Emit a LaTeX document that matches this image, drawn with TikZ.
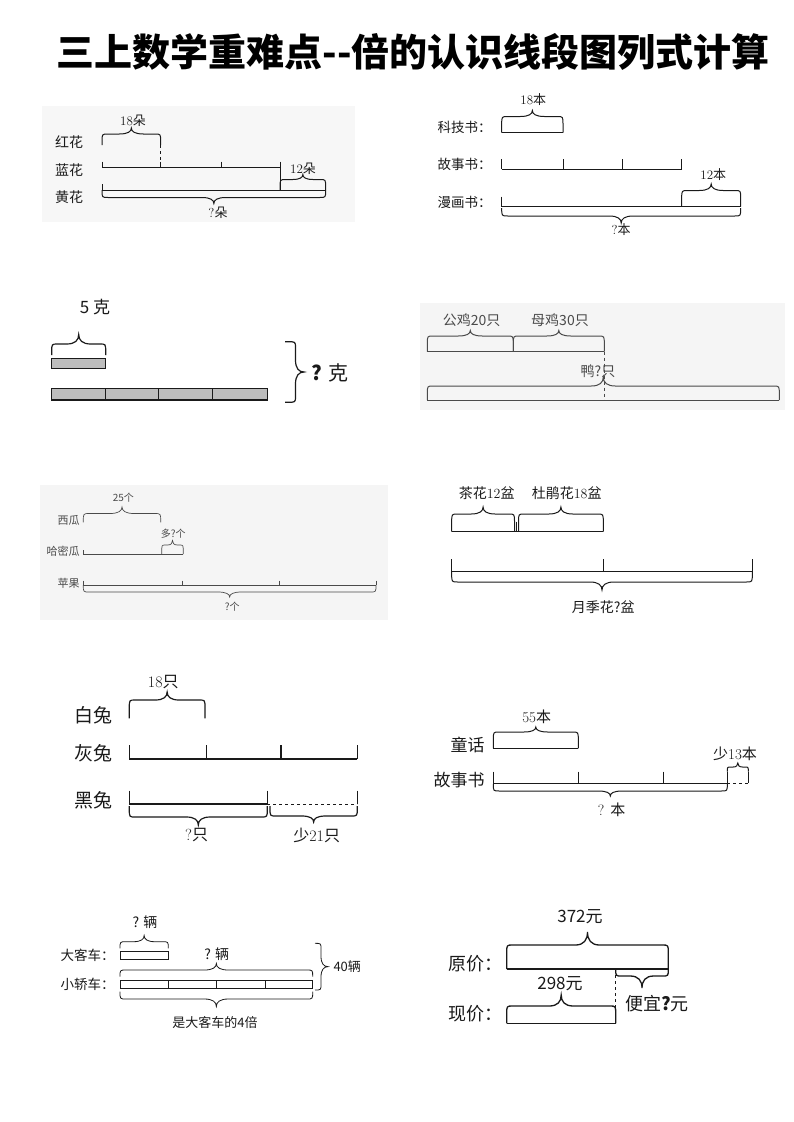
\documentclass[tikz,border=0pt]{standalone}
\usepackage{fontspec}
\newfontfamily\cjk{Noto Sans CJK SC}
\definecolor{barg}{HTML}{BDBDBD}
\definecolor{ink}{HTML}{1A1A1A}
\definecolor{inkb}{HTML}{4A4A4A}
\newcommand\hbr[6][]{%
  \pgfmathsetmacro\brxm{(#2+#3)/2}%
  \pgfmathsetmacro\brrx{min(6,(#3-#2)/6)}%
  \pgfmathsetmacro\brtw{min(12,(#3-#2)/4.5)}%
  \pgfmathsetmacro\bryc{#5+(#4-#5)*min(1,8/max(abs(#4-#5),0.01))}%
  \draw[brc,#1] (#2,#4) -- (#2,\bryc) .. controls (#2,#5) .. ({#2+\brrx},#5) -- ({\brxm-\brtw},#5) .. controls ({\brxm-0.3*\brtw},#5) and (\brxm,{#5+0.4*(#6-#5)}) .. (\brxm,#6) .. controls (\brxm,{#5+0.4*(#6-#5)}) and ({\brxm+0.3*\brtw},#5) .. ({\brxm+\brtw},#5) -- ({#3-\brrx},#5) .. controls (#3,#5) .. (#3,\bryc) -- (#3,#4);}
\newcommand\vbr[6][]{%
  \pgfmathsetmacro\brym{(#2+#3)/2}%
  \pgfmathsetmacro\brry{min(6,(#3-#2)/6)}%
  \pgfmathsetmacro\brtw{min(12,(#3-#2)/4.5)}%
  \pgfmathsetmacro\brxc{#5+(#4-#5)*min(1,8/max(abs(#4-#5),0.01))}%
  \draw[brc,#1] (#4,#2) -- (\brxc,#2) .. controls (#5,#2) .. (#5,{#2+\brry}) -- (#5,{\brym-\brtw}) .. controls (#5,{\brym-0.3*\brtw}) and ({#5+0.4*(#6-#5)},\brym) .. (#6,\brym) .. controls ({#5+0.4*(#6-#5)},\brym) and (#5,{\brym+0.3*\brtw}) .. (#5,{\brym+\brtw}) -- (#5,{#3-\brry}) .. controls (#5,#3) .. (\brxc,#3) -- (#4,#3);}
\begin{document}
\begin{tikzpicture}[x=1pt,y=-1pt,line width=1pt,draw=ink,
  brc/.style={line width=1pt},
  fs/.style={font=\fontsize{#1}{#1}\selectfont},
  lab/.style={inner sep=0pt,text=ink},
  tick/.style={line width=1pt}]
\useasboundingbox (0,0) rectangle (793,1122);
\fill[white] (0,0) rectangle (793,1122);
% title
\node[lab,fs=38,text=black] (title) at (413,52) {\cjk\bfseries 三上数学重难点--倍的认识线段图列式计算};

% ---------- panel 1 ----------
\fill[black!3] (42,106) rectangle (355,222);
\node[lab,fs=14] (p1a) at (69,142) {\cjk 红花};
\node[lab,fs=14] (p1b) at (69,170) {\cjk 蓝花};
\node[lab,fs=14] (p1c) at (69,197) {\cjk 黄花};
\node[lab,fs=13] (p1n1) at (133,121) {18\cjk 朵};
\node[lab,fs=13] (p1n2) at (303,168.5) {12\cjk 朵};
\node[lab,fs=13] (p1n3) at (218,212.5) {?\cjk 朵};
\hbr{102}{160.7}{145}{134}{128}
\draw[dashed,line width=0.8pt] (160.7,145) -- (160.7,167.7);
\draw (102,167.7) -- (280,167.7);
\foreach \x in {102,160.7,221,280} \draw[tick] (\x,161.7) -- (\x,167.7);
\draw (102,190) -- (325.7,190);
\draw[tick] (102,184) -- (102,190);
\draw[tick] (280,167.7) -- (280,190);
\hbr{280}{325.7}{190}{179.5}{174.5}
\hbr{102}{325.7}{190}{197.5}{203.5}

% ---------- panel 2 ----------
\node[lab,fs=13.5,anchor=east] (p2a) at (492,127.7) {\cjk 科技书：};
\node[lab,fs=13.5,anchor=east] (p2b) at (492,164.3) {\cjk 故事书：};
\node[lab,fs=13.5,anchor=east] (p2c) at (492,202.3) {\cjk 漫画书：};
\node[lab,fs=13] (p2n1) at (533.3,100) {18\cjk 本};
\node[lab,fs=13] (p2n2) at (713.3,175) {12\cjk 本};
\node[lab,fs=13] (p2n3) at (621,230) {?\cjk 本};
\hbr{501.7}{563}{132.7}{116.5}{110.5}
\draw (501.7,132.7) -- (563,132.7);
\draw (501.7,169.3) -- (681.7,169.3);
\foreach \x in {501.7,563,622.7,681.7} \draw[tick] (\x,159.3) -- (\x,169.3);
\draw (501.7,206.7) -- (740.7,206.7);
\draw[tick] (501.7,196.7) -- (501.7,206.7);
\draw[tick] (681.7,195) -- (681.7,206.7);
\hbr{681.7}{740.7}{206.7}{190.5}{184}
\hbr{501.7}{740.7}{208}{216}{223}

% ---------- panel 3 ----------
\node[lab,fs=17] (p3n1) at (95,306.7) {\cjk 5 克};
\hbr[line width=1.2pt]{51.7}{105.7}{355}{344}{334.5}
\draw[fill=barg,line width=1.2pt] (51.7,358.3) rectangle (105.7,368.3);
\draw[fill=barg,line width=1.2pt] (51.7,388.3) rectangle (267.7,400);
\foreach \x in {105,158.3,212.7} \draw[line width=1pt] (\x,388.3) -- (\x,400);
\vbr[line width=1.2pt]{341.7}{402.3}{285}{295.5}{304}
\node[lab,fs=20] (p3n2) at (330,373.3) {\cjk{\bfseries ?} 克};

% ---------- panel 4 ----------
\fill[black!4] (420,303) rectangle (785,410);
\begin{scope}[draw=inkb]
\node[lab,fs=14,text=inkb] (p4n1) at (471.7,320) {\cjk 公鸡20只};
\node[lab,fs=14,text=inkb] (p4n2) at (560,320) {\cjk 母鸡30只};
\node[lab,fs=14,text=inkb] (p4n3) at (598,371.7) {\cjk 鸭?只};
\draw (427.3,351.7) -- (604.3,351.7);
\draw[tick] (513.3,343) -- (513.3,351.7);
\hbr{427.3}{513.3}{351.7}{336}{330.5}
\hbr{513.3}{604.3}{351.7}{336}{330.5}
\draw[dashed,line width=0.8pt] (604.3,351.7) -- (604.3,400);
\hbr{427.3}{779.3}{400}{386}{377}
\draw (427.3,400) -- (779.3,400);
\end{scope}

% ---------- panel 5 ----------
\fill[black!4] (40,485) rectangle (388,620);
\begin{scope}[draw=inkb,line width=0.7pt,brc/.style={line width=0.7pt},tick/.style={line width=0.7pt}]
\node[lab,fs=11,text=inkb,anchor=east] (p5a) at (80,520) {\cjk 西瓜};
\node[lab,fs=11,text=inkb,anchor=east] (p5b) at (80,551.7) {\cjk 哈密瓜};
\node[lab,fs=11,text=inkb,anchor=east] (p5c) at (80,583.3) {\cjk 苹果};
\node[lab,fs=10,text=inkb] (p5n1) at (123.3,497.7) {\cjk 25个};
\node[lab,fs=10,text=inkb] (p5n2) at (173.3,533.5) {\cjk 多?个};
\node[lab,fs=10,text=inkb] (p5n3) at (232.3,606.5) {\cjk ?个};
\hbr{83.3}{160.7}{522.3}{513.5}{507}
\draw (83.3,554) -- (183.3,554);
\draw[tick] (83.3,550) -- (83.3,554);
\hbr{161.7}{183.3}{554}{545}{540.5}
\draw (83.3,585) -- (376,585);
\foreach \x in {83.3,182.7,279.3,376} \draw[tick] (\x,580.5) -- (\x,585);
\hbr{83.3}{376}{585}{592}{597}
\end{scope}

% ---------- panel 6 ----------
\node[lab,fs=14] (p6n1) at (486.7,493.3) {\cjk 茶花\rmfamily 12\cjk 盆};
\node[lab,fs=14] (p6n2) at (566.7,493.3) {\cjk 杜鹃花\rmfamily 18\cjk 盆};
\node[lab,fs=14] (p6n3) at (603.3,606.7) {\cjk 月季花?盆};
\hbr{451.7}{514.5}{531.7}{514}{507}
\hbr{518.5}{603.3}{531.7}{514}{507}
\draw (451.7,531.7) -- (603.3,531.7);
\draw[tick] (516.7,521.7) -- (516.7,531.7);
\draw (451.7,571.7) -- (752.3,571.7);
\foreach \x in {451.7,603.3,752.3} \draw[tick] (\x,559) -- (\x,571.7);
\hbr{451.7}{752.3}{571.7}{582}{590}

% ---------- panel 7 ----------
\node[lab,fs=16] (p7n1) at (163.3,681.7) {18\cjk 只};
\node[lab,fs=19,anchor=east] (p7a) at (113,715) {\cjk 白兔};
\node[lab,fs=19,anchor=east] (p7b) at (113,753.3) {\cjk 灰兔};
\node[lab,fs=19,anchor=east] (p7c) at (113,800) {\cjk 黑兔};
\node[lab,fs=16] (p7n2) at (196.7,835) {?\cjk 只};
\node[lab,fs=16] (p7n3) at (316.7,835) {\cjk 少\rmfamily 21\cjk 只};
\hbr[line width=1.2pt]{129.3}{205}{718.3}{700}{692}
\draw[line width=1.1pt] (129.3,759) -- (357.3,759);
\foreach \x in {129.3,206.7,281,357.3} \draw[line width=1.1pt] (\x,745) -- (\x,759);
\draw[line width=1.1pt] (129.3,804) -- (267.3,804);
\draw[dashed,line width=1pt] (267.3,804) -- (357.3,804);
\foreach \x in {129.3,267.3,357.3} \draw[line width=1.1pt] (\x,790.5) -- (\x,804);
\hbr[line width=1.2pt]{129.3}{267.3}{806}{817}{825}
\hbr[line width=1.2pt]{270}{357.3}{806}{816}{822}

% ---------- panel 8 ----------
\node[lab,fs=15] (p8n1) at (536.7,716.7) {55\cjk 本};
\node[lab,fs=17,anchor=east] (p8a) at (485,745) {\cjk 童话};
\node[lab,fs=17,anchor=east] (p8b) at (485,780) {\cjk 故事书};
\node[lab,fs=15] (p8n2) at (735,753.3) {\cjk 少\rmfamily 13\cjk 本};
\node[lab,fs=15] (p8n3) at (611.7,810) {? \cjk 本};
\hbr{493.3}{578.3}{748.3}{732}{727}
\draw (493.3,748.3) -- (578.3,748.3);
\draw (493.3,783.3) -- (727.3,783.3);
\foreach \x in {493.3,578.3,663.3,727.3} \draw[tick] (\x,771.7) -- (\x,783.3);
\draw[dashed,line width=0.8pt] (727.3,783.3) -- (748.3,783.3);
\draw[tick] (748.3,771.7) -- (748.3,783.3);
\hbr{727.3}{748.3}{771.7}{767}{763}
\hbr{493.3}{727.3}{784}{791}{796}

% ---------- panel 9 ----------
\begin{scope}[draw=ink]
\node[lab,fs=14] (p9n1) at (145,921.7) {\cjk ? 辆};
\node[lab,fs=13.5,anchor=east] (p9a) at (115,955) {\cjk 大客车：};
\node[lab,fs=13.5,anchor=east] (p9b) at (115,984.3) {\cjk 小轿车：};
\node[lab,fs=14] (p9n2) at (216.7,954.3) {\cjk ? 辆};
\node[lab,fs=13] (p9n3) at (215,1022.3) {\cjk 是大客车的4倍};
\node[lab,fs=13,anchor=west] (p9n4) at (333,966.7) {\cjk 40辆};
\hbr[line width=0.8pt]{120}{168.3}{948.3}{941.7}{935.5}
\draw[line width=0.9pt] (120,951.7) rectangle (168.3,959);
\hbr[line width=0.8pt]{120}{312.7}{976.7}{970}{963.5}
\draw[line width=0.9pt] (120,980) rectangle (312.7,988.3);
\foreach \x in {168.3,216,265} \draw[line width=0.9pt] (\x,980) -- (\x,988.3);
\hbr[line width=0.8pt]{120}{312.7}{991.7}{999}{1006.5}
\vbr[line width=0.8pt]{943.3}{990}{315}{321}{328}
\end{scope}

% ---------- panel 10 ----------
\begin{scope}[line width=1.3pt,brc/.style={line width=1.3pt}]
\node[lab,fs=17] (p10n1) at (580,916.7) {\cjk 372元};
\node[lab,fs=18,anchor=east] (p10a) at (503,963.3) {\cjk 原价：};
\node[lab,fs=18,anchor=east] (p10b) at (503,1013.3) {\cjk 现价：};
\node[lab,fs=17] (p10n2) at (560,983.3) {\cjk 298元};
\node[lab,fs=18] (p10n3) at (657,1003.3) {\cjk 便宜{\bfseries ?}元};
\hbr{506.7}{668.3}{969}{945}{932}
\draw (506.7,969) -- (668.3,969);
\draw[dashed,line width=1pt] (615.7,969) -- (615.7,1023.3);
\hbr{615.7}{668.3}{969}{976}{988}
\hbr{506.7}{615.7}{1023.3}{1006}{995}
\draw (506.7,1023.3) -- (615.7,1023.3);
\end{scope}
\end{tikzpicture}
\end{document}
